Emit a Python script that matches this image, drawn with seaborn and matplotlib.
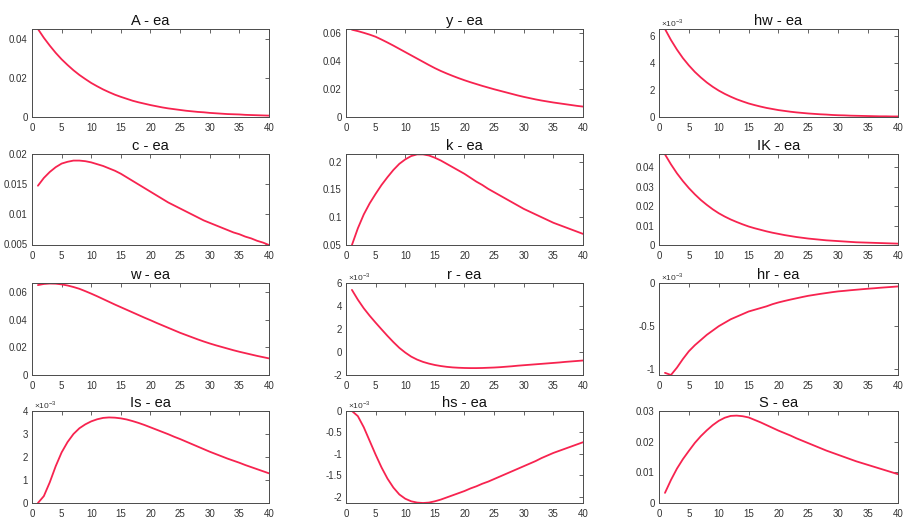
import matplotlib
matplotlib.use("Agg")
import matplotlib.pyplot as plt
import seaborn as sns
import pandas as pd
from matplotlib.ticker import FuncFormatter, MultipleLocator

# ---------------- data ----------------
periods = list(range(1, 41))

titles = ["A - ea", "y - ea", "hw - ea",
          "c - ea", "k - ea", "IK - ea",
          "w - ea", "r - ea", "hr - ea",
          "Is - ea", "hs - ea", "S - ea"]

A_ea = [0.0450, 0.0405, 0.0365, 0.0328, 0.0295, 0.0266, 0.0239, 0.0215, 0.0194, 0.0174,
        0.0157, 0.0141, 0.0127, 0.0114, 0.0103, 0.0093, 0.0083, 0.0075, 0.0068, 0.0061,
        0.0055, 0.0049, 0.0044, 0.0040, 0.0036, 0.0032, 0.0029, 0.0026, 0.0024, 0.0021,
        0.0019, 0.0017, 0.0015, 0.0014, 0.0013, 0.0011, 0.0010, 0.0009, 0.0008, 0.0007]

y_ea = [0.0620, 0.0610, 0.0598, 0.0585, 0.0570, 0.0550, 0.0529, 0.0507, 0.0484, 0.0461,
        0.0438, 0.0415, 0.0392, 0.0369, 0.0347, 0.0327, 0.0309, 0.0292, 0.0276, 0.0261,
        0.0247, 0.0234, 0.0221, 0.0209, 0.0197, 0.0186, 0.0175, 0.0164, 0.0153, 0.0143,
        0.0134, 0.0125, 0.0117, 0.0110, 0.0103, 0.0097, 0.0091, 0.0085, 0.0079, 0.0074]

hw_ea = [6.50e-3, 5.69e-3, 4.98e-3, 4.35e-3, 3.81e-3, 3.33e-3, 2.92e-3, 2.55e-3, 2.23e-3, 1.95e-3,
         1.71e-3, 1.50e-3, 1.31e-3, 1.15e-3, 1.00e-3, 0.88e-3, 0.77e-3, 0.67e-3, 0.59e-3, 0.51e-3,
         0.45e-3, 0.39e-3, 0.34e-3, 0.30e-3, 0.26e-3, 0.23e-3, 0.20e-3, 0.18e-3, 0.15e-3, 0.13e-3,
         0.12e-3, 0.10e-3, 0.09e-3, 0.08e-3, 0.07e-3, 0.06e-3, 0.05e-3, 0.05e-3, 0.04e-3, 0.04e-3]

c_ea = [0.0147, 0.0160, 0.0170, 0.0178, 0.0184, 0.0187, 0.0189, 0.0189, 0.0188, 0.0186,
        0.0183, 0.0180, 0.0176, 0.0172, 0.0167, 0.0161, 0.0155, 0.0149, 0.0143, 0.0137,
        0.0131, 0.0125, 0.0119, 0.0114, 0.0109, 0.0104, 0.0099, 0.0094, 0.0089, 0.0085,
        0.0081, 0.0077, 0.0073, 0.0069, 0.0066, 0.0062, 0.0059, 0.0055, 0.0052, 0.0048]

k_ea = [0.050, 0.080, 0.105, 0.125, 0.142, 0.158, 0.172, 0.185, 0.196, 0.204,
        0.210, 0.213, 0.213, 0.211, 0.207, 0.202, 0.196, 0.190, 0.184, 0.178,
        0.171, 0.164, 0.158, 0.151, 0.145, 0.139, 0.133, 0.127, 0.121, 0.115,
        0.110, 0.105, 0.100, 0.095, 0.090, 0.086, 0.082, 0.078, 0.074, 0.070]

IK_ea = [0.0465, 0.0414, 0.0368, 0.0328, 0.0292, 0.0260, 0.0231, 0.0206, 0.0183, 0.0163,
         0.0146, 0.0131, 0.0118, 0.0106, 0.0095, 0.0086, 0.0078, 0.0070, 0.0063, 0.0057,
         0.0051, 0.0046, 0.0041, 0.0037, 0.0033, 0.0030, 0.0027, 0.0024, 0.0022, 0.0020,
         0.0018, 0.0016, 0.0014, 0.0013, 0.0012, 0.0011, 0.0010, 0.0009, 0.0008, 0.0007]

w_ea = [0.0650, 0.0658, 0.0661, 0.0660, 0.0655, 0.0647, 0.0636, 0.0623, 0.0606, 0.0588,
        0.0569, 0.0549, 0.0529, 0.0509, 0.0490, 0.0471, 0.0452, 0.0433, 0.0414, 0.0396,
        0.0377, 0.0359, 0.0341, 0.0323, 0.0305, 0.0289, 0.0273, 0.0257, 0.0242, 0.0228,
        0.0215, 0.0203, 0.0191, 0.0179, 0.0168, 0.0158, 0.0148, 0.0138, 0.0129, 0.0120]

r_ea = [5.40e-3, 4.55e-3, 3.80e-3, 3.15e-3, 2.55e-3, 1.97e-3, 1.40e-3, 0.86e-3, 0.36e-3, -0.05e-3,
        -0.40e-3, -0.66e-3, -0.86e-3, -1.01e-3, -1.13e-3, -1.22e-3, -1.29e-3, -1.34e-3, -1.37e-3, -1.39e-3,
        -1.40e-3, -1.40e-3, -1.39e-3, -1.37e-3, -1.35e-3, -1.32e-3, -1.28e-3, -1.24e-3, -1.19e-3, -1.15e-3,
        -1.11e-3, -1.07e-3, -1.03e-3, -0.99e-3, -0.95e-3, -0.91e-3, -0.86e-3, -0.82e-3, -0.78e-3, -0.74e-3]

hr_ea = [-1.040e-3, -1.065e-3, -0.980e-3, -0.880e-3, -0.790e-3, -0.720e-3, -0.660e-3, -0.600e-3, -0.550e-3, -0.500e-3,
         -0.460e-3, -0.420e-3, -0.390e-3, -0.360e-3, -0.330e-3, -0.310e-3, -0.290e-3, -0.270e-3, -0.245e-3, -0.225e-3,
         -0.208e-3, -0.192e-3, -0.177e-3, -0.162e-3, -0.148e-3, -0.137e-3, -0.126e-3, -0.116e-3, -0.106e-3, -0.097e-3,
         -0.091e-3, -0.084e-3, -0.078e-3, -0.072e-3, -0.066e-3, -0.061e-3, -0.055e-3, -0.050e-3, -0.045e-3, -0.040e-3]

Is_ea = [0.00e-3, 0.30e-3, 0.90e-3, 1.60e-3, 2.20e-3, 2.65e-3, 3.00e-3, 3.25e-3, 3.42e-3, 3.55e-3,
         3.64e-3, 3.70e-3, 3.72e-3, 3.71e-3, 3.68e-3, 3.63e-3, 3.56e-3, 3.48e-3, 3.39e-3, 3.29e-3,
         3.19e-3, 3.09e-3, 2.99e-3, 2.88e-3, 2.78e-3, 2.67e-3, 2.56e-3, 2.45e-3, 2.34e-3, 2.23e-3,
         2.13e-3, 2.03e-3, 1.93e-3, 1.84e-3, 1.75e-3, 1.65e-3, 1.56e-3, 1.47e-3, 1.38e-3, 1.29e-3]

hs_ea = [0.00e-3, -0.12e-3, -0.38e-3, -0.70e-3, -1.02e-3, -1.32e-3, -1.58e-3, -1.79e-3, -1.95e-3, -2.05e-3,
         -2.11e-3, -2.14e-3, -2.15e-3, -2.14e-3, -2.11e-3, -2.07e-3, -2.02e-3, -1.97e-3, -1.92e-3, -1.87e-3,
         -1.81e-3, -1.76e-3, -1.70e-3, -1.65e-3, -1.59e-3, -1.53e-3, -1.47e-3, -1.41e-3, -1.35e-3, -1.29e-3,
         -1.23e-3, -1.17e-3, -1.10e-3, -1.04e-3, -0.98e-3, -0.93e-3, -0.88e-3, -0.83e-3, -0.78e-3, -0.73e-3]

S_ea = [0.0033, 0.0075, 0.0112, 0.0143, 0.0170, 0.0196, 0.0218, 0.0237, 0.0254, 0.0268,
        0.0278, 0.0284, 0.0285, 0.0283, 0.0279, 0.0271, 0.0263, 0.0254, 0.0245, 0.0236,
        0.0228, 0.0220, 0.0211, 0.0203, 0.0195, 0.0187, 0.0179, 0.0171, 0.0164, 0.0157,
        0.0150, 0.0143, 0.0136, 0.0130, 0.0124, 0.0118, 0.0112, 0.0106, 0.0100, 0.0094]

series = [A_ea, y_ea, hw_ea, c_ea, k_ea, IK_ea, w_ea, r_ea, hr_ea, Is_ea, hs_ea, S_ea]

# axis settings per panel
ylims = [(0, 0.045), (0, 0.0625), (0, 0.0065),
         (0.0048, 0.020), (0.05, 0.2137), (0, 0.0467),
         (0, 0.0665), (-2e-3, 6e-3), (-1.065e-3, 0),
         (0, 4e-3), (-2.15e-3, 0), (0, 0.03)]
ysteps = [0.02, 0.02, 2e-3,
          0.005, 0.05, 0.01,
          0.02, 2e-3, 0.5e-3,
          1e-3, 0.5e-3, 0.01]
scaled = [False, False, True,
          False, False, False,
          False, True, True,
          True, True, False]

# ---------------- style ----------------
sns.set_theme(style="white")
plt.rcParams['font.family'] = ['Liberation Sans', 'DejaVu Sans']
plt.rcParams['mathtext.fontset'] = 'custom'
plt.rcParams['mathtext.rm'] = 'Liberation Sans'

LINE = '#f7234f'
EDGE = '#4a4a4a'
TXT = '#333333'

fig = plt.figure(figsize=(9.04, 5.17), dpi=100)
W, H = 904.0, 517.0
col_left = [32, 346, 659]
col_w = [237, 237, 239]
row_top = [29, 154, 283, 411]
row_bot = [117, 245, 375, 503]

for i, (title, vals) in enumerate(zip(titles, series)):
    r, c = divmod(i, 3)
    left = col_left[c] / W
    bottom = 1 - row_bot[r] / H
    width = col_w[c] / W
    height = (row_bot[r] - row_top[r]) / H
    ax = fig.add_axes([left, bottom, width, height])
    df = pd.DataFrame({"period": periods, "value": vals})
    sns.lineplot(data=df, x="period", y="value", ax=ax, color=LINE, linewidth=1.3)
    ax.set_xlim(0, 40)
    ax.set_ylim(*ylims[i])
    ax.xaxis.set_major_locator(MultipleLocator(5))
    ax.yaxis.set_major_locator(MultipleLocator(ysteps[i]))
    scale = 1e-3 if scaled[i] else 1.0

    def make_fmt(s):
        def f(v, pos):
            x = round(v / s, 6) + 0.0
            if abs(x) < 1e-9:
                x = 0.0
            return f"{x:g}"
        return f
    ax.yaxis.set_major_formatter(FuncFormatter(make_fmt(scale)))
    ax.set_xlabel("")
    ax.set_ylabel("")
    ax.set_title(title, fontsize=10.5, color='#111111', pad=3)
    ax.tick_params(axis='both', which='both', direction='in', length=3, width=0.6,
                   labelsize=7, colors=EDGE, labelcolor=TXT, top=True, right=True)
    ax.tick_params(axis='x', pad=4)
    ax.tick_params(axis='y', pad=3)
    for sp in ax.spines.values():
        sp.set_color(EDGE)
        sp.set_linewidth(0.7)
    if scaled[i]:
        ax.text(0.01, 1.005, r"$\times10^{-3}$", transform=ax.transAxes,
                fontsize=6, color=TXT, ha='left', va='bottom')

fig.savefig("out.png", dpi=100)
